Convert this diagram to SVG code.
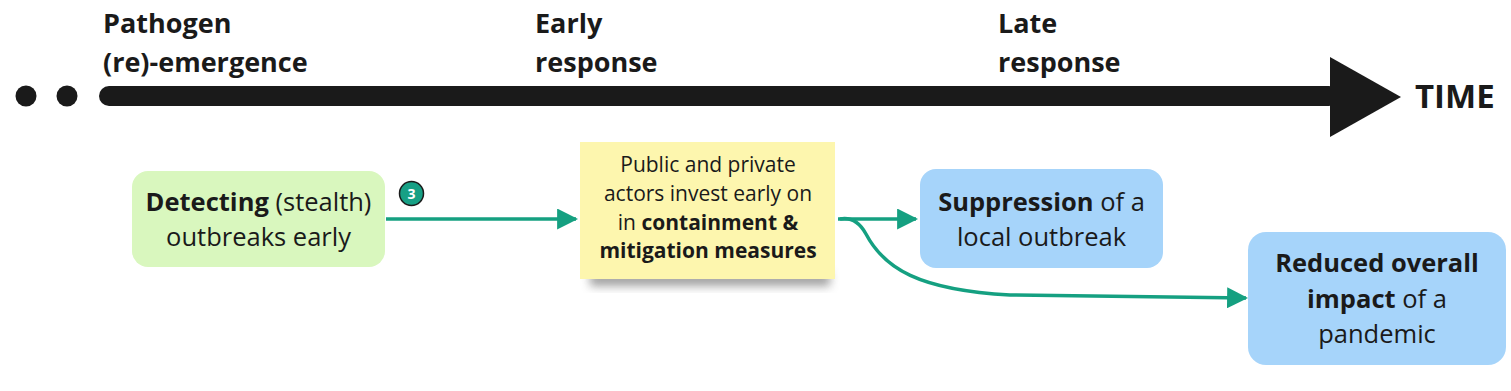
<svg xmlns="http://www.w3.org/2000/svg" width="1511" height="391" viewBox="0 0 1511 391">
<style>
text{font-family:"Open Sans","Noto Sans","Liberation Sans",sans-serif;fill:#1a1a1a}
.tl{font-size:27px;font-weight:700}
.bx{font-size:25.5px;text-anchor:middle}
.st{font-size:21px;text-anchor:middle}
.b{font-weight:700}
.conn{fill:none;stroke:#15a081;stroke-width:3.5}
</style>
<defs>
<marker id="ah" viewBox="0 0 10 10" refX="9" refY="5" markerWidth="6" markerHeight="6" markerUnits="strokeWidth" orient="auto">
<path d="M0,0 L10,5 L0,10 Z" fill="#15a081"/>
</marker>
<filter id="sh" x="-20%" y="-50%" width="140%" height="200%">
<feGaussianBlur stdDeviation="5"/>
</filter>
</defs>
<rect width="1511" height="391" fill="#ffffff"/>
<g id="timeline">
<circle cx="26" cy="96" r="10.5" fill="#1a1a1a"/>
<circle cx="67" cy="96" r="10.5" fill="#1a1a1a"/>
<rect x="99" y="86" width="1240" height="20" rx="10" fill="#1a1a1a"/>
<polygon points="1330,57 1401,97 1330,137" fill="#1a1a1a"/>
<text class="tl" x="1415" y="108" style="font-size:33px">TIME</text>
<text class="tl" x="103" y="33">Pathogen</text>
<text class="tl" x="103" y="72">(re)-emergence</text>
<text class="tl" x="535" y="33">Early</text>
<text class="tl" x="535" y="72">response</text>
<text class="tl" x="998" y="33">Late</text>
<text class="tl" x="998" y="72">response</text>
</g>
<g id="connectors">
<path class="conn" d="M386,219 L576,219" marker-end="url(#ah)"/>
<path class="conn" d="M838,219 L916,219" marker-end="url(#ah)"/>
<path class="conn" d="M840,219 Q856,216 866,234 C884,268 918,290 1010,295 L1246,298" marker-end="url(#ah)"/>
</g>
<g id="detecting">
<rect x="132" y="171" width="253" height="96" rx="16" fill="#d9f7be"/>
<text class="bx" x="258.5" y="211"><tspan class="b">Detecting</tspan> (stealth)</text>
<text class="bx" x="258.5" y="246">outbreaks early</text>
</g>
<g id="badge">
<circle cx="411.5" cy="193.5" r="12" fill="#17a085" stroke="#1a1a1a" stroke-width="1.5"/>
<text x="411.5" y="198.5" style="font-size:14px;font-weight:700;fill:#ffffff;text-anchor:middle">3</text>
</g>
<g id="invest">
<rect x="590" y="272" width="240" height="14" fill="#555" opacity="0.55" filter="url(#sh)"/>
<rect x="580" y="142" width="255" height="137" fill="#fdf6ae"/>
<text class="st" x="708" y="172">Public and private</text>
<text class="st" x="708" y="201">actors invest early on</text>
<text class="st" x="708" y="230">in <tspan class="b">containment &amp;</tspan></text>
<text class="st b" x="708" y="258">mitigation measures</text>
</g>
<g id="suppression">
<rect x="920" y="169" width="243" height="99" rx="16" fill="#a6d4fa"/>
<text class="bx" x="1041.5" y="211"><tspan class="b">Suppression</tspan> of a</text>
<text class="bx" x="1041.5" y="246">local outbreak</text>
</g>
<g id="reduced">
<rect x="1248" y="232" width="258" height="133" rx="18" fill="#a6d4fa"/>
<text class="bx" x="1377" y="272"><tspan class="b">Reduced overall</tspan></text>
<text class="bx" x="1377" y="308"><tspan class="b">impact</tspan> of a</text>
<text class="bx" x="1377" y="343">pandemic</text>
</g>
</svg>
